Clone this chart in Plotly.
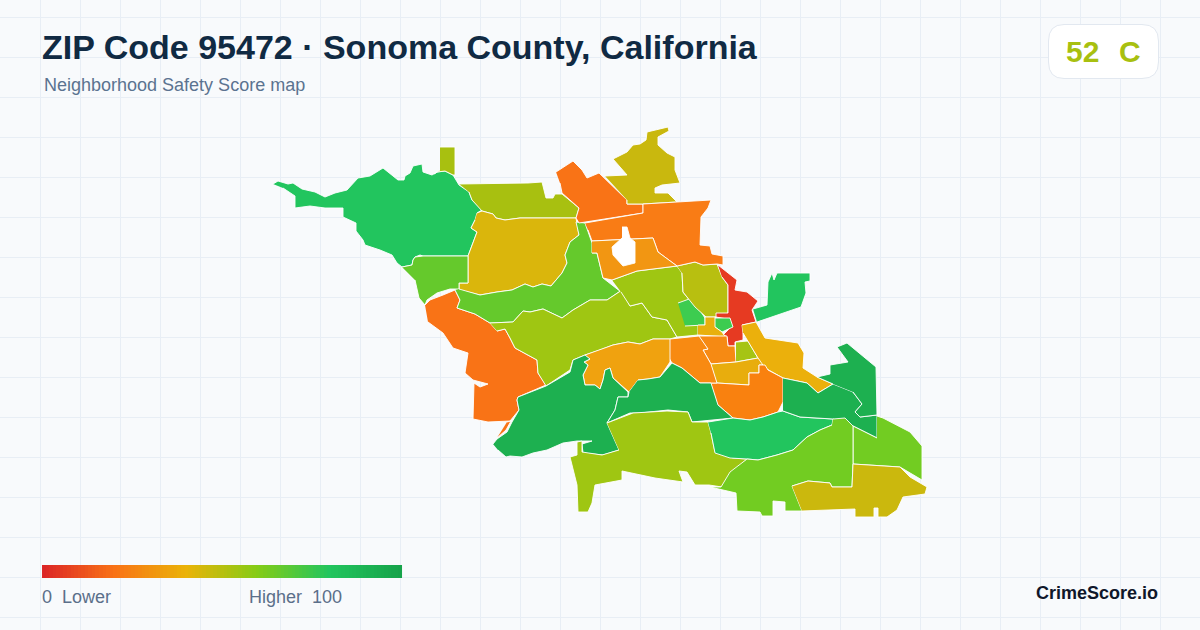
import plotly.graph_objects as go

# outlines, in picture pixels
coast = [(273,184),(278,181),(288,184),(293,183),(302,189),(315,192),(325,197),(335,193),(347,190),(358,178),(370,176),(383,168),(398,180),(404,180),(405,176),(410,173),(413,166),(422,164),(423,172),(432,175),(437,172),(445,171),(453,175),(459,185),(469,192),(472,200),(482,210),(477,213),(475,220),(471,228),(477,232),(473,243),(468,256),(423,256),(420,255),(415,257),(413,260),(412,265),(402,267),(397,263),(392,255),(380,250),(365,245),(363,240),(356,231),(356,223),(343,217),(343,208),(325,208),(310,206),(295,208),(295,196),(283,188)]
chimney = [(440,147),(455,147),(455,175),(453,175),(445,171),(437,172),(434,174),(440,170)]
north_strip = [(459,184),(528,183),(542,182),(546,198),(553,198),(555,194),(562,194),(579,208),(576,218),(549,218),(520,218),(505,220),(496,218),(493,214),(482,211),(472,200),(469,192)]
yellow_west = [(477,213),(482,211),(493,214),(496,218),(505,220),(520,218),(549,218),(576,218),(579,235),(570,242),(565,255),(567,263),(562,273),(551,286),(542,284),(533,287),(525,284),(512,290),(497,292),(480,295),(472,293),(459,290),(459,283),(468,283),(468,256),(473,243),(477,232),(471,228),(475,220)]
green_west = [(402,267),(412,265),(413,260),(415,257),(423,256),(468,256),(468,283),(459,283),(459,289),(450,289),(437,293),(427,300),(425,305),(419,298),(415,280)]
orange_coast = [(425,305),(430,300),(443,295),(455,290),(460,300),(457,308),(475,314),(490,323),(497,331),(505,329),(510,338),(515,348),(537,360),(538,373),(546,385),(518,397),(517,400),(519,410),(510,421),(488,422),(473,419),(474,383),(480,387),(488,384),(473,380),(465,373),(468,353),(453,348),(443,333),(428,322)]
orange_sliver = [(507,422),(511,421),(506,430),(497,438)]
green_band = [(459,289),(472,293),(480,295),(497,292),(512,290),(525,284),(533,287),(542,284),(551,286),(562,273),(567,263),(565,255),(570,242),(579,235),(576,222),(585,223),(592,243),(592,253),(597,253),(603,278),(621,292),(622,290),(607,300),(590,300),(573,310),(562,318),(543,309),(530,312),(523,311),(513,322),(490,323),(475,314),(457,308),(460,300),(455,290)]
lime_center = [(490,323),(513,322),(523,311),(530,312),(543,309),(562,318),(573,310),(590,300),(607,300),(622,290),(630,306),(642,303),(652,317),(667,320),(677,337),(670,339),(653,339),(640,344),(628,342),(613,345),(600,350),(585,355),(573,360),(570,370),(546,386),(538,373),(537,360),(515,348),(510,338),(505,329),(497,331)]
lime_north = [(612,280),(637,271),(677,266),(682,273),(683,292),(695,307),(706,322),(698,323),(698,335),(677,337),(667,320),(652,317),(642,303),(630,306),(621,292)]
green_inner_a = [(678,303),(692,298),(705,318),(705,325),(685,326)]
olive_city = [(677,266),(695,262),(703,265),(717,264),(722,277),(728,285),(728,313),(715,317),(706,317),(695,307),(683,292),(682,273)]
orange_nw = [(556,172),(573,161),(582,170),(587,178),(599,173),(627,200),(627,204),(643,204),(643,213),(579,223),(576,218),(579,208),(562,193),(560,183)]
mustard_top = [(605,176),(627,175),(613,159),(627,152),(633,145),(640,144),(646,140),(647,132),(668,127),(669,131),(658,137),(658,145),(667,153),(675,157),(675,170),(680,183),(662,185),(655,188),(655,193),(668,193),(677,202),(643,204),(627,204),(627,200)]
orange_ne = [(585,223),(643,213),(643,204),(711,200),(708,208),(701,217),(700,245),(710,246),(712,254),(723,256),(723,265),(717,264),(703,265),(695,262),(677,266),(658,252),(653,238),(592,241),(588,230)]
amber_north = [(592,241),(653,238),(658,252),(677,266),(637,271),(612,280),(603,278),(597,253),(592,253)]
hole = [(622,227),(627,227),(630,238),(635,242),(635,263),(623,266),(613,255),(612,247),(622,238)]
red_core = [(718,265),(737,280),(735,290),(747,292),(758,301),(752,310),(756,322),(742,325),(743,333),(743,340),(735,342),(735,346),(728,346),(727,337),(723,335),(730,328),(727,319),(716,317),(716,313),(728,313),(728,285),(722,277)]
green_inner_b = [(715,318),(730,318),(733,327),(722,332),(715,327)]
amber_small = [(698,325),(705,325),(705,317),(715,317),(715,327),(722,332),(724,335),(727,337),(698,335)]
orange_small = [(699,336),(727,336),(728,346),(735,346),(736,362),(711,364),(703,350),(708,349)]
lime_small = [(736,342),(748,341),(758,358),(736,362)]
amber_block = [(711,364),(736,362),(758,358),(765,365),(759,365),(759,373),(749,373),(749,385),(717,383)]
amber_east = [(742,325),(756,322),(765,338),(798,343),(804,353),(803,368),(817,377),(833,384),(818,393),(807,383),(783,378),(765,368),(758,358),(748,341),(743,333)]
orange_low = [(711,383),(717,383),(749,385),(749,373),(759,373),(759,365),(765,365),(768,370),(783,378),(783,402),(778,412),(763,417),(750,420),(733,418),(718,405)]
orange_mid = [(670,339),(699,336),(708,349),(703,350),(711,364),(717,383),(700,383),(682,368),(672,363),(669,358)]
amber_center = [(585,355),(600,350),(613,345),(628,342),(640,344),(653,339),(670,339),(670,362),(660,377),(648,379),(638,380),(629,392),(613,378),(610,368),(605,370),(603,380),(600,389),(595,385),(585,385),(583,375),(588,365),(584,362),(590,359)]
dark_sw = [(493,444),(497,439),(507,432),(512,422),(519,410),(517,400),(518,397),(546,386),(570,372),(573,360),(585,355),(590,359),(584,362),(588,365),(583,375),(585,385),(595,385),(600,389),(603,380),(605,370),(610,368),(613,378),(628,392),(628,397),(618,397),(615,410),(607,423),(619,450),(603,455),(583,453),(582,444),(592,441),(577,441),(563,443),(547,450),(533,453),(522,457),(510,456),(506,457),(498,450)]
dark_center = [(638,380),(648,379),(660,377),(672,363),(682,368),(700,383),(711,383),(718,405),(733,418),(692,422),(688,412),(668,410),(640,413),(630,413),(607,423),(615,410),(618,397),(628,397),(629,392)]
lime_south = [(607,423),(633,413),(667,411),(688,412),(692,422),(708,422),(711,433),(715,452),(733,458),(747,459),(732,473),(722,487),(709,485),(695,485),(687,472),(679,471),(683,482),(655,478),(622,471),(622,480),(595,485),(592,503),(588,512),(578,512),(577,485),(570,457),(577,455),(577,442),(582,441),(582,452),(602,455),(619,450)]
green_south = [(708,422),(733,418),(750,420),(763,417),(778,412),(783,411),(800,417),(833,419),(832,425),(820,430),(807,437),(793,450),(777,455),(758,460),(747,459),(730,458),(715,453),(711,433)]
dark_east_a = [(783,378),(807,383),(818,393),(833,384),(853,392),(862,404),(855,412),(860,417),(877,415),(877,438),(853,426),(833,419),(800,417),(783,411)]
dark_east_b = [(833,384),(817,377),(830,374),(830,365),(848,362),(837,347),(847,343),(876,367),(877,415),(860,417),(855,412),(862,404),(853,392)]
lime_east = [(877,416),(883,418),(910,432),(922,446),(922,480),(900,467),(853,464),(853,426),(877,438)]
lime_se = [(833,419),(845,418),(853,426),(853,464),(852,487),(832,487),(830,483),(808,481),(792,486),(802,511),(785,511),(785,502),(773,501),(773,516),(762,516),(760,512),(737,511),(736,493),(710,487),(721,487),(730,472),(747,459),(758,460),(777,455),(793,450),(807,437),(820,430),(832,425)]
mustard_se = [(792,486),(808,481),(830,483),(832,487),(852,487),(853,464),(900,467),(910,477),(927,487),(925,494),(903,497),(897,510),(887,517),(878,517),(878,508),(874,508),(874,517),(855,517),(855,509),(828,510),(802,511)]
green_ne = [(753,309),(767,305),(768,282),(772,273),(774,280),(777,273),(810,273),(810,281),(805,282),(806,293),(801,307),(757,322)]

region_shapes = [coast, chimney, north_strip, yellow_west, green_west, orange_coast, orange_sliver,
                 green_band, lime_center, lime_north, green_inner_a, olive_city, orange_nw, mustard_top,
                 orange_ne, amber_north, hole, red_core, green_inner_b, amber_small, orange_small,
                 lime_small, amber_block, amber_east, orange_low, orange_mid, amber_center, dark_sw,
                 dark_center, lime_south, green_south, dark_east_a, dark_east_b, lime_east, lime_se,
                 mustard_se, green_ne]
region_colors = ["#22c55e", "#a8c010", "#a8c010", "#dab60c", "#65c92c", "#f97316", "#f97316",
                 "#65c92c", "#9fc612", "#9fc612", "#3dcc50", "#b8bf10", "#f97316", "#c9b80e",
                 "#f97c15", "#f29612", "#ffffff", "#e63a22", "#3dcc50", "#e8b00d", "#f68a13",
                 "#a6c414", "#e8ad0d", "#ebb00c", "#f9810f", "#f88a12", "#f0a20f", "#1db050",
                 "#1db050", "#9fc612", "#22c55e", "#1db050", "#1db050", "#72cc22", "#72cc22",
                 "#cbb80d", "#22c55e"]

ramp_values = list(range(0, 101))
ramp = [[0, "#dc2626"], [0.2, "#f97316"], [0.4, "#eab308"], [0.6, "#84cc16"], [0.8, "#22c55e"], [1, "#16a34a"]]

bg = "#f8fafc"
sans = "Liberation Sans, Arial, sans-serif"

fig = go.Figure()

for shape, color in zip(region_shapes, region_colors):
    fig.add_trace(go.Scatter(
        x=[p[0] for p in shape],
        y=[p[1] for p in shape],
        mode="lines",
        fill="toself",
        fillcolor=color,
        line=dict(color="#ffffff", width=0.9),
        hoverinfo="skip",
        showlegend=False,
    ))

fig.add_trace(go.Heatmap(
    z=[ramp_values],
    x0=43.8, dx=360 / 101,
    y0=571.5, dy=13,
    zmin=0, zmax=100,
    colorscale=ramp,
    showscale=False,
    hoverinfo="skip",
))

fig.update_layout(
    width=1200,
    height=630,
    margin=dict(l=0, r=0, t=0, b=0),
    paper_bgcolor=bg,
    plot_bgcolor=bg,
    showlegend=False,
    xaxis=dict(range=[0, 1200], tick0=0, dtick=40, showgrid=True, gridcolor="#e8eef5", gridwidth=1,
               zeroline=False, showticklabels=False, ticks="", fixedrange=True),
    yaxis=dict(range=[630, 0], tick0=17, dtick=40, showgrid=True, gridcolor="#e8eef5", gridwidth=1,
               zeroline=False, showticklabels=False, ticks="", fixedrange=True),
    shapes=[
        dict(type="rect", x0=0, x1=1200, y0=0, y1=96, fillcolor=bg, line_width=0, layer="below"),
        dict(type="path",
             path="M 1064 24.5 L 1142 24.5 Q 1158.5 24.5 1158.5 41 L 1158.5 62 Q 1158.5 78.5 1142 78.5 "
                  "L 1064 78.5 Q 1048.5 78.5 1048.5 62 L 1048.5 41 Q 1048.5 24.5 1064 24.5 Z",
             fillcolor="#ffffff", line=dict(color="#e2e8f0", width=1), layer="above"),
    ],
)

def label(x, y, text, size, color, bold=False, anchor="left"):
    fig.add_annotation(x=x, y=y, text=f"<b>{text}</b>" if bold else text, showarrow=False,
                       xanchor=anchor, yanchor="middle",
                       font=dict(family=sans, size=size, color=color))

label(40, 47, "ZIP Code 95472 · Sonoma County, California", 34, "#102a43", bold=True)
label(42, 85, "Neighborhood Safety Score map", 18, "#5b7390")
label(1064, 51, "52", 30, "#a8c010", bold=True)
label(1117, 51, "C", 30, "#a8c010", bold=True)
label(40, 597, "0\u00a0\u00a0Lower", 18, "#5b6f8a")
label(247, 597, "Higher\u00a0\u00a0100", 18, "#5b6f8a")
label(1160, 593, "CrimeScore.io", 18, "#0f172a", bold=True, anchor="right")

fig.write_html("out.html", config=dict(displayModeBar=False),
               post_script="document.body.style.margin='0';document.body.style.overflow='hidden';")
